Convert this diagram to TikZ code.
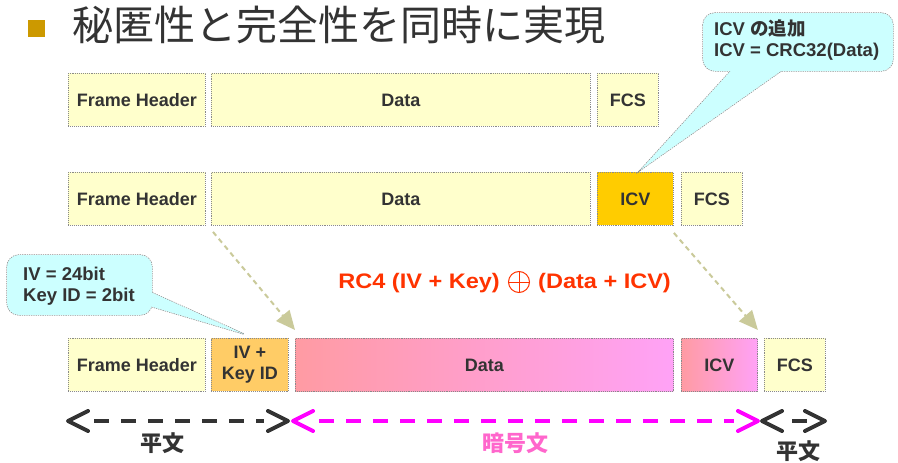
\documentclass[tikz,border=0pt]{standalone}
\usepackage{fontspec}
\usepackage{graphicx}
\setmainfont{Liberation Sans}
\newfontfamily\jp{Noto Sans CJK JP}
\usetikzlibrary{arrows.meta}
\definecolor{txt}{HTML}{333333}
\definecolor{boxy}{HTML}{FFFFCC}
\definecolor{ivfill}{HTML}{FFCC66}
\definecolor{icvfill}{HTML}{FFCC00}
\definecolor{pinkA}{HTML}{FF9BA3}
\definecolor{pinkB}{HTML}{FFA2F6}
\definecolor{callfill}{HTML}{CCFFFF}
\definecolor{olive}{HTML}{CACA9A}
\definecolor{rcred}{HTML}{FF3300}
\definecolor{magen}{HTML}{FF00FF}
\definecolor{pinklbl}{HTML}{FF66CC}
\definecolor{bullet}{HTML}{CC9900}
\definecolor{bordergray}{HTML}{8A8A8A}
\newcommand\mkbox[7]{\node[box,#2,anchor=north west,minimum width=#5pt,minimum height=#6pt] (#1) at (#3,#4) {#7};}
\begin{document}
\begin{tikzpicture}[x=1pt,y=-1pt,
  box/.style={draw=bordergray, densely dotted, line width=0.9pt, fill=boxy, inner sep=0pt,
    align=center, text=txt, font=\fontsize{18}{21}\selectfont\bfseries},
  calldraw/.style={draw=bordergray, densely dotted, line width=1.3pt},
  callfillst/.style={fill=callfill},
  calltext/.style={inner sep=0pt, align=left, text=txt, font=\fontsize{18.5}{21.5}\selectfont\bfseries},
  olivearrow/.style={draw=olive, line width=2pt, dash pattern=on 5pt off 4pt,
    -{Triangle[length=19pt,width=17pt,fill=olive]}},
  chev/.style={line width=4pt, line cap=round, line join=round},
  spanline/.style={line width=4pt, dash pattern=on 15pt off 12pt},
  lbl/.style={inner sep=0pt, font=\jp\bfseries\fontsize{22}{22}\selectfont},
  rc4/.style={inner sep=0pt, text=rcred, font=\fontsize{21}{24}\selectfont\bfseries}
]
\useasboundingbox[fill=white] (0,0) rectangle (898,463);

% title
\node[fill=bullet, minimum size=17pt, inner sep=0pt] (bul) at (36.5,28.5) {};
\node[anchor=west, inner sep=0pt, text=txt, font=\jp\fontsize{41}{41}\selectfont] (title) at (72,25) {秘匿性と完全性を同時に実現};

% row 1
\mkbox{fh1}{}{68}{73}{137}{53}{Frame Header}
\mkbox{d1}{}{211}{73}{379}{53}{Data}
\mkbox{fcs1}{}{597}{73}{61}{53}{FCS}
% row 2
\mkbox{fh2}{}{68}{172}{137}{53}{Frame Header}
\mkbox{d2}{}{211}{172}{379}{53}{Data}
\mkbox{icv2}{fill=icvfill}{597}{172}{76}{53}{ICV}
\mkbox{fcs2}{}{681}{172}{61}{53}{FCS}
% row 3
\mkbox{fh3}{}{68}{338}{137}{53}{Frame Header}
\mkbox{iv3}{fill=ivfill}{211}{338}{77}{53}{IV +\\Key ID}
\mkbox{d3}{left color=pinkA, right color=pinkB}{295}{338}{378}{53}{Data}
\mkbox{icv3}{left color=pinkA, right color=pinkB}{681}{338}{76}{53}{ICV}
\mkbox{fcs3}{}{764}{338}{61}{53}{FCS}

% dashed olive arrows
\draw[olivearrow] ([xshift=2pt,yshift=-6pt]d2.south west) -- ([yshift=8pt]d3.north west);
\draw[olivearrow] ([yshift=-7pt]icv2.south east) -- ([yshift=8pt]icv3.north east);

% callout 1
\coordinate (t1) at ([xshift=5pt,yshift=2pt]icv2.north);
\draw[calldraw, rounded corners=12pt] (703,13) rectangle (893,71);
\draw[calldraw] (737,64) -- (t1) -- (791,64);
\fill[callfillst, rounded corners=12pt] (703,13) rectangle (893,71);
\fill[callfillst] (737,64) -- (t1) -- (791,64) -- cycle;
\node[calltext, anchor=west] (ct1) at (714,40) {ICV {\jp\bfseries の追加}\\ICV = CRC32(Data)};

% callout 2
\coordinate (t2) at ([xshift=-6pt,yshift=4pt]iv3.north);
\draw[calldraw, rounded corners=12pt] (7,255) rectangle (152,315);
\draw[calldraw] (146,290) -- (t2) -- (146,305);
\fill[callfillst, rounded corners=12pt] (7,255) rectangle (152,315);
\fill[callfillst] (146,290) -- (t2) -- (146,305) -- cycle;
\node[calltext, anchor=west] (ct2) at (23,286) {IV = 24bit\\Key ID = 2bit};

% RC4 formula
\node[rc4, anchor=east] (rcA) at (500,283) {\scalebox{1.12}[1]{RC4 (IV + Key)}};
\node[circle, draw=rcred, line width=1pt, minimum size=21pt, inner sep=0pt] (op) at (519,282) {};
\draw[rcred, line width=1pt] (op.north) -- (op.south) (op.west) -- (op.east);
\node[rc4, anchor=west] (rcB) at (538,283) {\scalebox{1.12}[1]{(Data + ICV)}};

% span arrows
\coordinate (L1) at (68,421);  \coordinate (R1) at (288,421);
\coordinate (L2) at (293,421); \coordinate (R2) at (758,421);
\coordinate (L3) at (762,421); \coordinate (R3) at (825,421);
\foreach \a/\b/\c in {L1/R1/txt, L2/R2/magen, L3/R3/txt}{
  \draw[chev, \c] ([shift={(20,-10)}]\a) -- (\a) -- ([shift={(20,10)}]\a);
  \draw[chev, \c] ([shift={(-20,-10)}]\b) -- (\b) -- ([shift={(-20,10)}]\b);
}
\draw[spanline, txt] ([xshift=26pt]L1) -- ([xshift=-24pt]R1);
\draw[spanline, magen] ([xshift=26pt]L2) -- ([xshift=-24pt]R2);
\draw[line width=4pt, txt] ([xshift=30pt]L3) -- ([xshift=-18pt]R3);

% labels
\node[lbl, text=txt] (p1) at (162,443) {平文};
\node[lbl, text=pinklbl] (a1) at (515,443) {暗号文};
\node[lbl, text=txt] (p2) at (798,451) {平文};
\end{tikzpicture}
\end{document}
